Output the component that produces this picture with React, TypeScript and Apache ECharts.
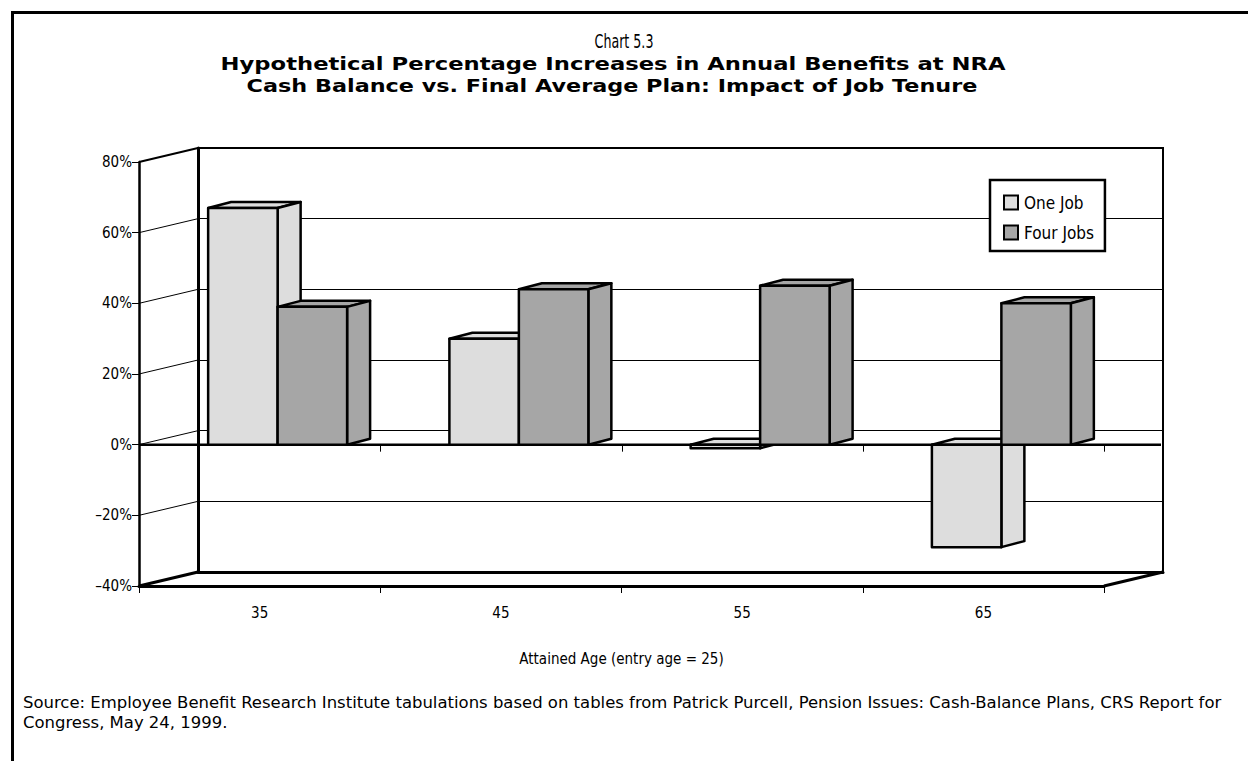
import React, { useEffect, useRef } from "react";
import * as echarts from "echarts";

const categories = ["35", "45", "55", "65"];
const oneJob = [0.67, 0.3, -0.01, -0.29];
const fourJobs = [0.39, 0.44, 0.45, 0.4];
const seriesNames = ["One Job", "Four Jobs"];
const seriesColors = ["#DDDDDD", "#A6A6A6"];
const yTicks = [-0.4, -0.2, 0, 0.2, 0.4, 0.6, 0.8];

const chartLabel = "Chart 5.3";
const titleLine1 = "Hypothetical Percentage Increases in Annual Benefits at NRA";
const titleLine2 = "Cash Balance vs. Final Average Plan: Impact of Job Tenure";
const xAxisName = "Attained Age (entry age = 25)";
const sourceText =
  "Source: Employee Benefit Research Institute tabulations based on tables from Patrick Purcell, Pension Issues: Cash-Balance Plans, CRS Report for\nCongress, May 24, 1999.";

const NARROW = '"Liberation Sans Narrow", "DejaVu Sans Condensed", Roboto, sans-serif';
const BOLD = '"DejaVu Sans", "Liberation Sans", sans-serif';

const WALL_DX = 59;
const WALL_DY = -14;
const BAR_DX = 23;
const BAR_DY = -6;

const fmtPct = (v: number) => {
  const n = Math.round(Math.abs(v) * 100);
  return (v < 0 ? "\u2013" : "") + n + "%";
};

const makeBarRender = (s: number) => (params: any, api: any) => {
  const idx = api.value(0);
  const val = api.value(1);
  const base = api.coord([idx, 0]);
  const tip = api.coord([idx, val]);
  const band = api.size([1, 0])[0];
  const w = band * 0.288;
  const shift = (WALL_DX - BAR_DX) / 2;
  const left = base[0] + shift + (s === 0 ? -w : 0);
  const yTop = Math.min(base[1], tip[1]);
  const yBot = Math.max(base[1], tip[1]);
  const style = {
    fill: seriesColors[s],
    stroke: "#000",
    lineWidth: 2.5,
    lineJoin: "round",
  };
  return {
    type: "group",
    children: [
      {
        type: "polygon",
        shape: {
          points: [
            [left, yTop],
            [left + BAR_DX, yTop + BAR_DY],
            [left + w + BAR_DX, yTop + BAR_DY],
            [left + w, yTop],
          ],
        },
        style,
      },
      {
        type: "polygon",
        shape: {
          points: [
            [left + w, yTop],
            [left + w + BAR_DX, yTop + BAR_DY],
            [left + w + BAR_DX, yBot + BAR_DY],
            [left + w, yBot],
          ],
        },
        style,
      },
      {
        type: "rect",
        shape: { x: left, y: yTop, width: w, height: Math.max(yBot - yTop, 0.5) },
        style,
      },
    ],
  };
};

const structureRender = (params: any, api: any) => {
  const cs = params.coordSys;
  const x = cs.x;
  const y = cs.y;
  const width = cs.width;
  const height = cs.height;
  const children: any[] = [];
  yTicks.forEach((t) => {
    const p = api.coord([0, t])[1];
    const lw = t === yTicks[0] ? 3 : t === yTicks[yTicks.length - 1] ? 2 : 1;
    children.push({
      type: "line",
      shape: { x1: x, y1: p, x2: x + WALL_DX, y2: p + WALL_DY },
      style: { stroke: "#000", lineWidth: lw },
    });
  });
  const y0 = api.coord([0, 0])[1];
  children.push({
    type: "line",
    shape: { x1: x, y1: y0, x2: x + width + WALL_DX - 2, y2: y0 },
    style: { stroke: "#000", lineWidth: 2.5 },
  });
  const n = categories.length;
  for (let i = 1; i <= n; i++) {
    const xi = Math.round(x + (i * width) / n) + 0.5;
    children.push({
      type: "line",
      shape: { x1: xi, y1: y0, x2: xi, y2: y0 + 7 },
      style: { stroke: "#000", lineWidth: 1 },
    });
  }
  children.push({
    type: "line",
    shape: {
      x1: x + width,
      y1: y + height,
      x2: x + width + WALL_DX,
      y2: y + height + WALL_DY,
    },
    style: { stroke: "#000", lineWidth: 3 },
  });
  return { type: "group", children };
};

export default function App() {
  const ref = useRef<HTMLDivElement>(null);
  useEffect(() => {
    if (!ref.current) return;
    const chart = echarts.init(ref.current, undefined, { renderer: "svg" });
    const gridFront = { left: 139, top: 162, width: 965, height: 424 };
    const gridBack = {
      left: 139 + WALL_DX,
      top: 162 + WALL_DY,
      width: 965,
      height: 424,
    };
    const option: any = {
      animation: false,
      backgroundColor: "#fff",
      legend: {
        data: seriesNames.map((nm, i) => ({
          name: nm,
          itemStyle: { color: seriesColors[i], borderColor: "#000", borderWidth: 2 },
        })),
        orient: "vertical",
        left: 990,
        top: 180,
        padding: [14, 11, 10, 13],
        itemGap: 13,
        itemWidth: 14,
        itemHeight: 14,
        icon: "rect",
        backgroundColor: "#fff",
        borderColor: "#000",
        borderWidth: 2.5,
        textStyle: { fontFamily: NARROW, fontSize: 17, color: "#000", padding: [0, 0, 0, 1] },
      },
      grid: [
        { ...gridFront, show: false },
        {
          ...gridBack,
          show: true,
          borderColor: "#000",
          borderWidth: 2,
          backgroundColor: "transparent",
        },
      ],
      xAxis: [
        {
          type: "category",
          gridIndex: 0,
          data: categories,
          position: "bottom",
          axisLine: { onZero: false, lineStyle: { color: "#000", width: 3 } },
          axisTick: { show: true, length: 7, lineStyle: { color: "#000", width: 1 } },
          axisLabel: {
            margin: 19,
            fontFamily: NARROW,
            fontSize: 15,
            color: "#000",
          },
          name: xAxisName,
          nameLocation: "middle",
          nameGap: 65,
          nameTextStyle: { fontFamily: NARROW, fontSize: 15, color: "#000" },
          splitLine: { show: false },
        },
        {
          type: "category",
          gridIndex: 1,
          data: categories,
          position: "bottom",
          axisLine: { onZero: false, lineStyle: { color: "#000", width: 3 } },
          axisTick: { show: false },
          axisLabel: { show: false },
          splitLine: { show: false },
        },
      ],
      yAxis: [
        {
          type: "value",
          gridIndex: 0,
          min: -0.4,
          max: 0.8,
          interval: 0.2,
          axisLine: { show: true, lineStyle: { color: "#000", width: 2.5 } },
          axisTick: { show: true, length: 7, lineStyle: { color: "#000", width: 1 } },
          axisLabel: {
            formatter: fmtPct,
            margin: 7,
            fontFamily: NARROW,
            fontSize: 15,
            color: "#000",
          },
          splitLine: { show: false },
        },
        {
          type: "value",
          gridIndex: 1,
          min: -0.4,
          max: 0.8,
          interval: 0.2,
          axisLine: { show: true, lineStyle: { color: "#000", width: 3 } },
          axisTick: { show: false },
          axisLabel: { show: false },
          splitLine: { show: true, lineStyle: { color: "#000", width: 1 } },
        },
      ],
      series: [
        {
          type: "custom",
          name: "structure",
          xAxisIndex: 0,
          yAxisIndex: 0,
          z: 1,
          silent: true,
          renderItem: structureRender,
          data: [[0, 0]],
          encode: { x: 0, y: 1 },
        },
        ...seriesNames.map((nm, s) => ({
          type: "custom",
          name: nm,
          xAxisIndex: 0,
          yAxisIndex: 0,
          z: 2 + s,
          itemStyle: { color: seriesColors[s] },
          renderItem: makeBarRender(s),
          data: (s === 0 ? oneJob : fourJobs).map((v, i) => [i, v]),
          encode: { x: 0, y: 1 },
        })),
      ],
      graphic: [
        {
          type: "line",
          shape: { x1: 11, y1: 12.5, x2: 1248, y2: 12.5 },
          style: { stroke: "#000", lineWidth: 3 },
        },
        {
          type: "line",
          shape: { x1: 12.5, y1: 11, x2: 12.5, y2: 761 },
          style: { stroke: "#000", lineWidth: 3 },
        },
        {
          type: "text",
          x: 624,
          y: 41,
          scaleX: 0.74,
          style: {
            text: chartLabel,
            font: "normal 19px " + NARROW,
            fill: "#000",
            textAlign: "center",
            textVerticalAlign: "middle",
          },
        },
        {
          type: "text",
          x: 613,
          y: 64,
          scaleX: 1.26,
          style: {
            text: titleLine1,
            font: "bold 18px " + BOLD,
            fill: "#000",
            textAlign: "center",
            textVerticalAlign: "middle",
          },
        },
        {
          type: "text",
          x: 612,
          y: 86,
          scaleX: 1.24,
          style: {
            text: titleLine2,
            font: "bold 18px " + BOLD,
            fill: "#000",
            textAlign: "center",
            textVerticalAlign: "middle",
          },
        },
        {
          type: "text",
          x: 23,
          y: 692,
          scaleX: 1.11,
          style: {
            text: sourceText,
            font: "normal 16.5px " + NARROW,
            lineHeight: 20,
            fill: "#000",
            textAlign: "left",
            textVerticalAlign: "top",
          },
        },
      ],
    };
    chart.setOption(option);
    return () => chart.dispose();
  }, []);
  return (
    <div
      ref={ref}
      style={{ position: "fixed", left: 0, top: 0, width: 1248, height: 761, background: "#fff" }}
    />
  );
}
